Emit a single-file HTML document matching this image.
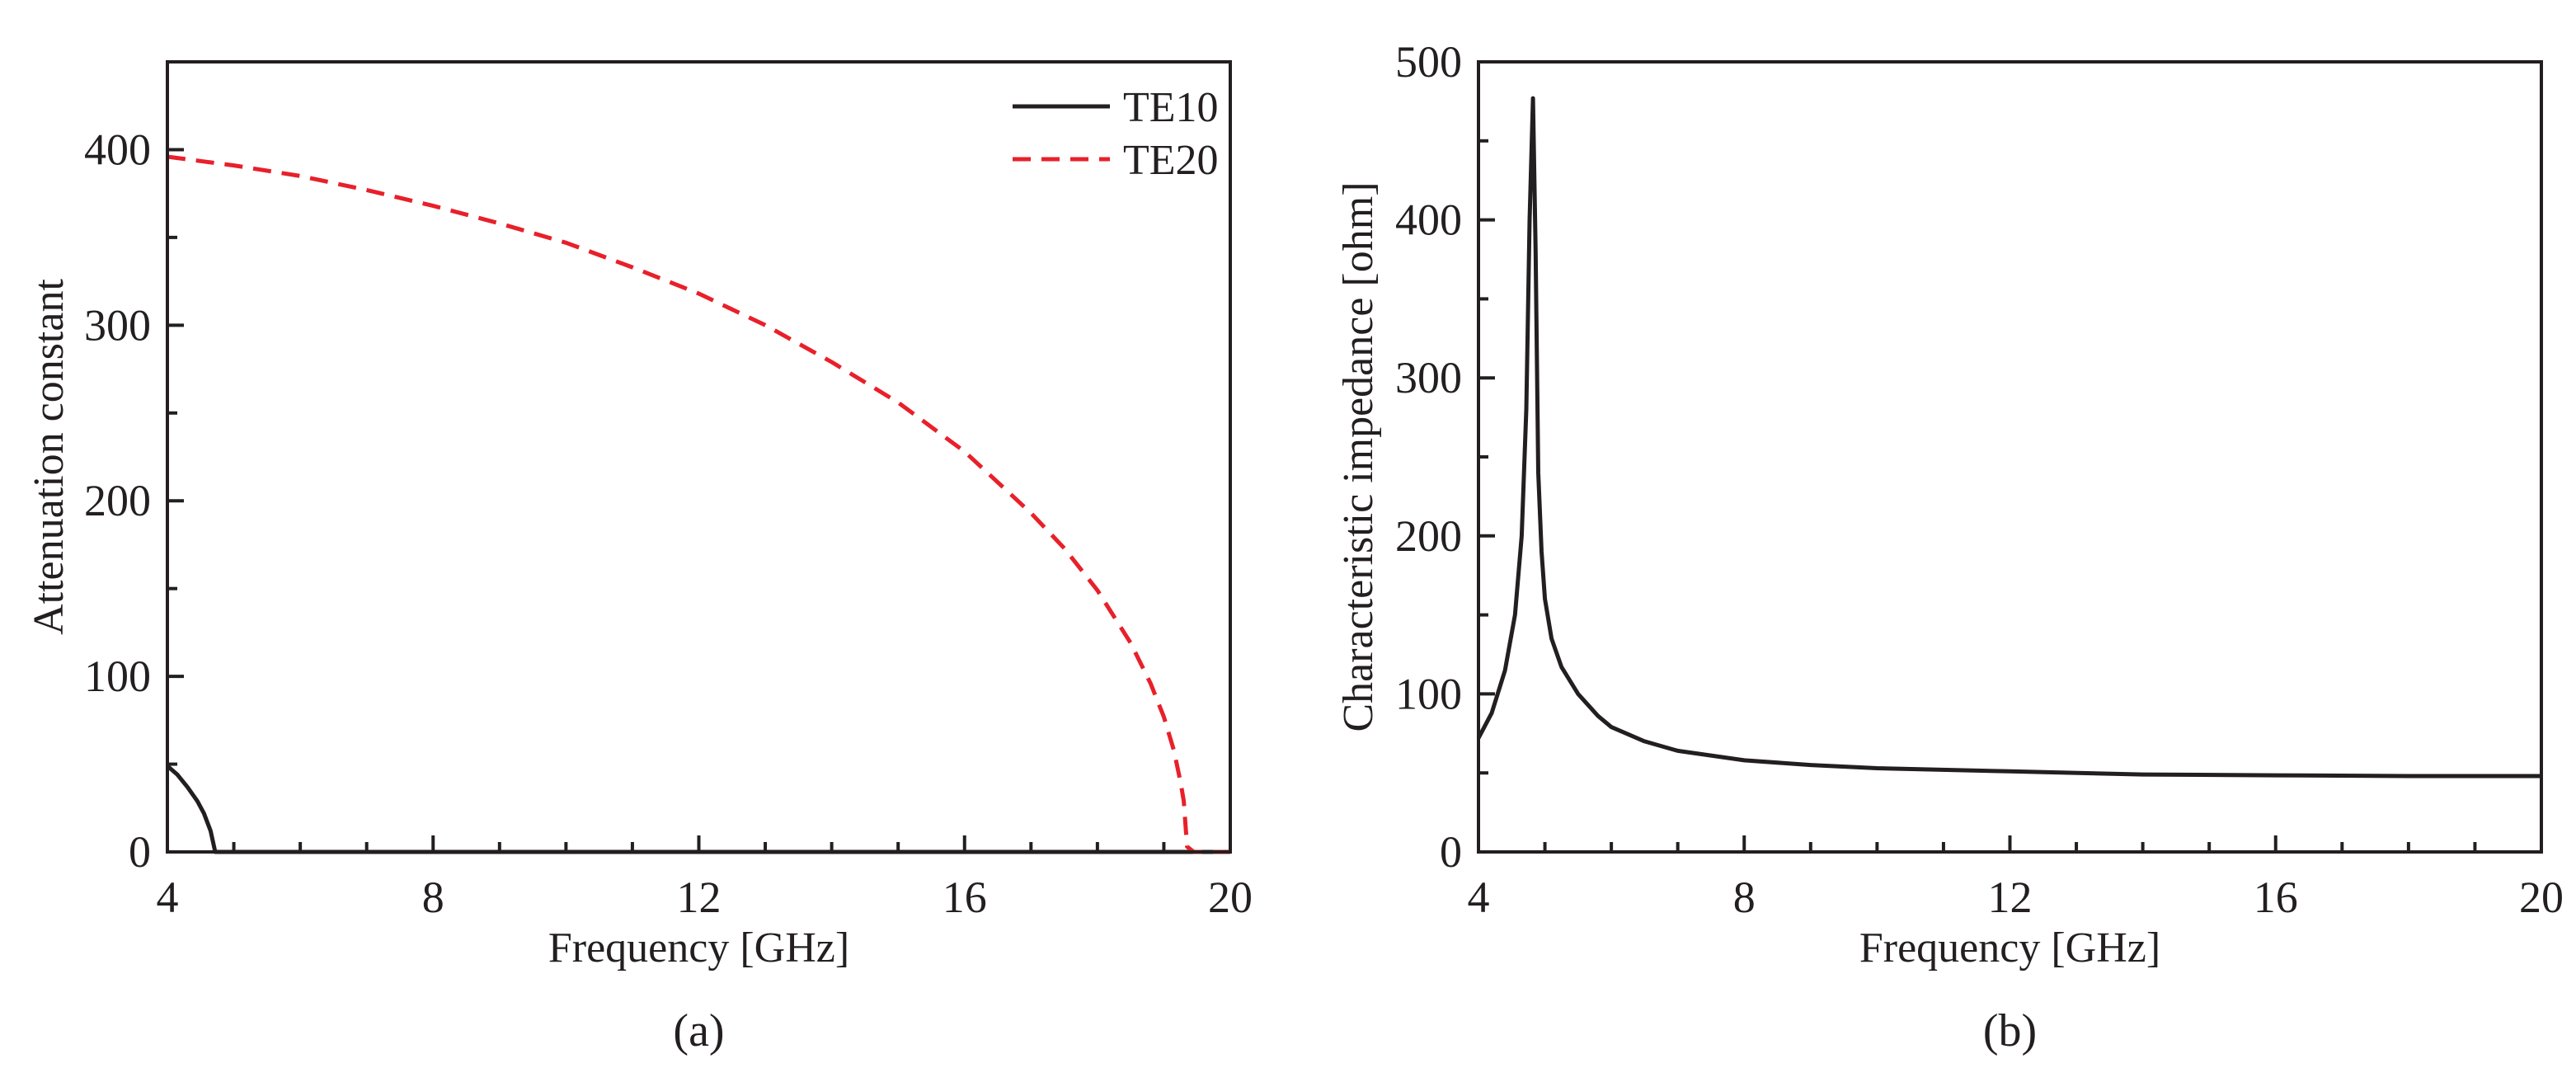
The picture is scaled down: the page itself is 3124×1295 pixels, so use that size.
<!DOCTYPE html>
<html><head><meta charset="utf-8">
<style>
html,body{margin:0;padding:0;background:#fff;}
svg{display:block;}
text{font-family:"Liberation Serif",serif;fill:#231f20;}
</style></head>
<body>
<svg id="fig" width="3124" height="1295" viewBox="0 0 3124 1295" xmlns="http://www.w3.org/2000/svg"></svg>
<script>
// Panel (a) data
const te10Freq = [4, 4.15, 4.3, 4.45, 4.55, 4.65, 4.72, 5, 10, 15, 20];
const te10Vals = [49, 44, 37, 29, 22, 12, 0, 0, 0, 0, 0];
const te20Freq = [4, 5, 6, 7, 8, 9, 10, 11, 12, 13, 14, 15, 16, 17, 17.5, 18, 18.5, 18.8, 19, 19.15, 19.25, 19.3, 19.35, 19.45, 20];
const te20Vals = [396, 391, 385, 377, 368, 358, 347, 333, 318, 300, 279, 256, 228, 193, 173, 149, 119, 96, 77, 58, 40, 29, 3, 0, 0];
// Panel (b) data
const zFreq = [4, 4.2, 4.4, 4.55, 4.65, 4.72, 4.77, 4.82, 4.86, 4.9, 4.95, 5.0, 5.1, 5.25, 5.5, 5.8, 6, 6.5, 7, 7.5, 8, 9, 10, 12, 14, 16, 18, 20];
const zVals = [72, 88, 115, 150, 200, 280, 400, 477, 380, 240, 190, 160, 135, 117, 100, 86, 79, 70, 64, 61, 58, 55, 53, 51, 49, 48.5, 48, 48];
const xTicks = [4, 8, 12, 16, 20];
const yTicksA = [0, 100, 200, 300, 400];
const yTicksB = [0, 100, 200, 300, 400, 500];

const NS = "http://www.w3.org/2000/svg";
const svg = document.getElementById('fig');
function mk(tag, attrs, parent, txt){
  const e = document.createElementNS(NS, tag);
  for (const k in attrs) e.setAttribute(k, attrs[k]);
  if (txt !== undefined) e.textContent = txt;
  (parent || svg).appendChild(e);
  return e;
}
function panel(id, L, R, T, B, yMax, yTicks, yMinorStep, yTitle, titleX, label){
  const g = mk('g', {});
  
  
  const sx = f => L + (f - 4) / 16 * (R - L);
  const sy = v => B - v / yMax * (B - T);
  for (let f = 4; f <= 20; f++) {
    const major = (f % 4 === 0);
    const t = mk('line', {x1: sx(f), x2: sx(f), y1: B, y2: B - (major ? 20 : 12), stroke: '#231f20', 'stroke-width': 4}, g);
    
    
  }
  for (let v = 0; v <= yMax; v += yMinorStep) {
    const major = yTicks.indexOf(v) >= 0;
    const t = mk('line', {x1: L, x2: L + (major ? 20 : 12), y1: sy(v), y2: sy(v), stroke: '#231f20', 'stroke-width': 4}, g);
    
    
  }
  xTicks.forEach(f => {
    const t = mk('text', {x: sx(f), y: 1106, 'font-size': 54, 'text-anchor': 'middle'}, g, String(f));
    
    
  });
  yTicks.forEach(v => {
    const t = mk('text', {x: L - 20, y: sy(v) + 18, 'font-size': 54, 'text-anchor': 'end'}, g, String(v));
    
    
  });
  const xt = mk('text', {x: (L + R) / 2, y: 1166, 'font-size': 52, 'text-anchor': 'middle'}, g, 'Frequency [GHz]');
  
  
  const cy = (T + B) / 2;
  const yt = mk('text', {x: titleX, y: cy, 'font-size': 52, 'text-anchor': 'middle', transform: 'rotate(-90 ' + titleX + ' ' + cy + ')'}, g, yTitle);
  
  
  const lb = mk('text', {x: (L + R) / 2, y: 1268, 'font-size': 56, 'text-anchor': 'middle'}, g, label);
  
  
  return {g, sx, sy, L, R, T, B};
}
function series(p, xs, ys, color, dash, name){
  let d = '';
  xs.forEach((f, i) => { d += (i ? 'L' : 'M') + p.sx(f).toFixed(1) + ' ' + p.sy(ys[i]).toFixed(1); });
  const a = {d: d, fill: 'none', stroke: color, 'stroke-width': 5, 'stroke-linejoin': 'round'};
  if (dash) a['stroke-dasharray'] = dash;
  const e = mk('path', a, p.g);
  
  
}
function frame(p){
  const r = mk('rect', {x: p.L, y: p.T, width: p.R - p.L, height: p.B - p.T, fill: 'none', stroke: '#231f20', 'stroke-width': 4}, p.g);
  
  
}

const pa = panel('panel-a', 203, 1492, 75, 1033, 450, yTicksA, 50, 'Attenuation constant', 76, '(a)');
series(pa, te10Freq, te10Vals, '#231f20', null, 'te10-line');
series(pa, te20Freq, te20Vals, '#e8202a', '22 13', 'te20-line');
frame(pa);
const lg = mk('g', {});


const l1 = mk('line', {x1: 1228, x2: 1346, y1: 129, y2: 129, stroke: '#231f20', 'stroke-width': 5}, lg);


const t1 = mk('text', {x: 1362, y: 147, 'font-size': 52}, lg, 'TE10');


const l2 = mk('line', {x1: 1228, x2: 1346, y1: 193, y2: 193, stroke: '#e8202a', 'stroke-width': 5, 'stroke-dasharray': '22 13'}, lg);


const t2 = mk('text', {x: 1362, y: 211, 'font-size': 52}, lg, 'TE20');



const pb = panel('panel-b', 1793, 3082, 75, 1033, 500, yTicksB, 50, 'Characteristic impedance [ohm]', 1664, '(b)');
series(pb, zFreq, zVals, '#231f20', null, 'impedance-line');
frame(pb);
</script>
</body></html>
